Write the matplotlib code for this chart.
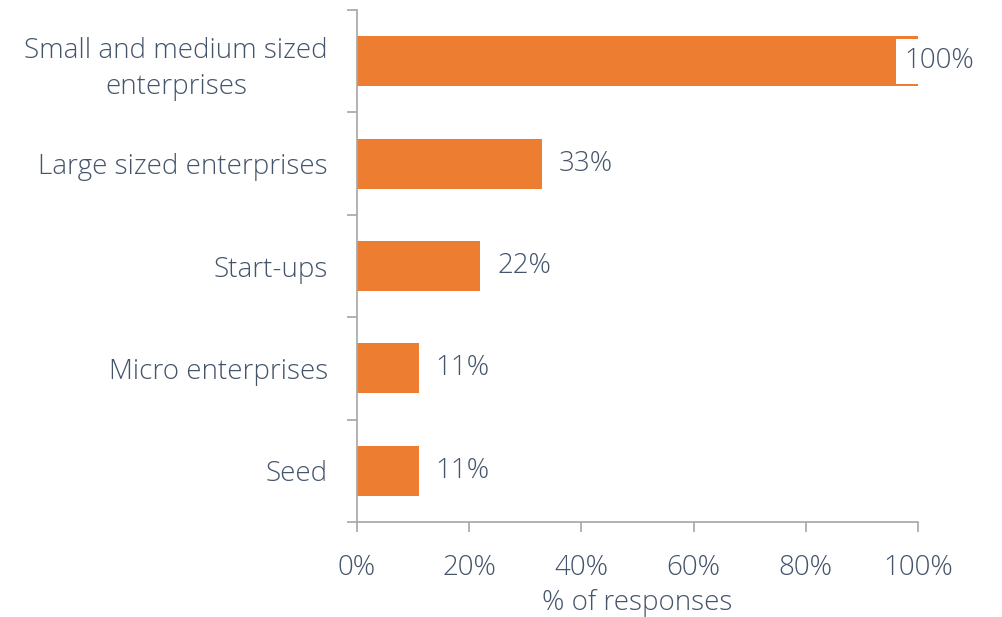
import matplotlib.pyplot as plt

plt.rcParams['font.family'] = ['Open Sans', 'DejaVu Sans']

categories = ['Small and medium sized\nenterprises', 'Large sized enterprises',
              'Start-ups', 'Micro enterprises', 'Seed']
values = [100, 33, 22, 11, 11]
xticks = [0, 20, 40, 60, 80, 100]

bar_color = '#ED7D31'
text_color = '#44546A'
axis_color = '#A6A6A6'
fs = 20

fig = plt.figure(figsize=(10.03, 6.17), dpi=100)
ax = fig.add_axes([357 / 1003, 1 - 522 / 617, 561 / 1003, 512 / 617])

pos = list(range(len(categories)))
ax.barh(pos, values, height=0.49, color=bar_color)
ax.set_ylim(len(categories) - 0.5, -0.5)
ax.set_xlim(0, 100)

# value labels to the right of each bar; the full bar gets its label pulled inside
for p, v in zip(pos, values):
    if v >= 100:
        ax.annotate(f'{v}%', (v, p), xytext=(-10, 0), textcoords='offset points',
                    ha='left', va='center', fontsize=fs, color=text_color,
                    fontweight='light',
                    bbox=dict(boxstyle='square,pad=0.3', fc='white', ec='none'))
    else:
        ax.annotate(f'{v}%', (v, p), xytext=(12, 0), textcoords='offset points',
                    ha='left', va='center', fontsize=fs, color=text_color,
                    fontweight='light')

ax.set_yticks(pos)
ax.set_yticklabels(categories, fontsize=fs, color=text_color,
                   fontweight='light', linespacing=1.4, multialignment='center')
ax.set_yticks([i - 0.5 for i in range(len(categories) + 1)], minor=True)
ax.tick_params(axis='y', which='major', length=0, pad=21)
ax.tick_params(axis='y', which='minor', length=7, color=axis_color, width=1.2)

ax.set_xticks(xticks)
ax.set_xticklabels([f'{t}%' for t in xticks], fontsize=fs, color=text_color,
                   fontweight='light')
ax.tick_params(axis='x', length=7, color=axis_color, width=1.2, pad=16)
ax.set_xlabel('% of responses', fontsize=fs, color=text_color,
              fontweight='light', labelpad=5)

for side in ['top', 'right']:
    ax.spines[side].set_visible(False)
for side in ['left', 'bottom']:
    ax.spines[side].set_color(axis_color)
    ax.spines[side].set_linewidth(1.2)

fig.savefig('out.png', dpi=100)
